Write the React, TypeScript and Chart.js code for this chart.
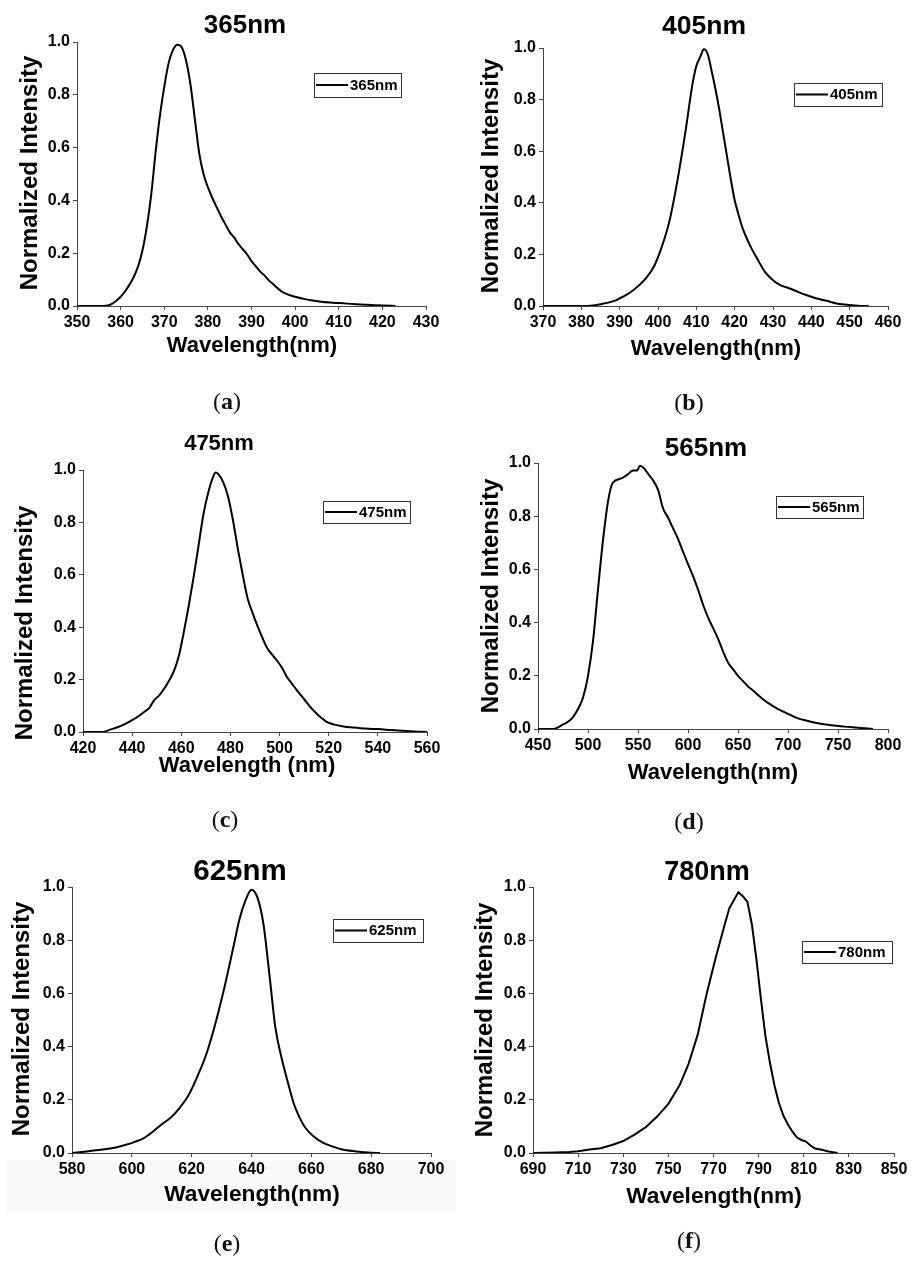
import React, { useEffect, useRef } from "react";
import { Chart, registerables } from "chart.js";

Chart.register(...registerables);

// ---------------- data ----------------
const wlA = [350, 355, 357, 358, 359, 360, 361, 362, 363, 364, 365, 366, 367, 368, 369, 370, 371, 372, 373, 374, 375, 376, 377, 378, 379, 380, 381, 382, 383, 384, 385, 386, 387, 388, 389, 390, 391, 392, 393, 394, 395, 396, 397, 398, 399, 400, 402, 404, 406, 408, 410, 412, 414, 416, 418, 420, 423];
const intA = [0, 0, 0.002, 0.008, 0.02, 0.035, 0.055, 0.08, 0.11, 0.15, 0.21, 0.3, 0.42, 0.58, 0.72, 0.83, 0.92, 0.97, 0.99, 0.98, 0.93, 0.84, 0.71, 0.58, 0.5, 0.45, 0.41, 0.375, 0.34, 0.31, 0.28, 0.26, 0.235, 0.215, 0.195, 0.17, 0.15, 0.13, 0.115, 0.097, 0.082, 0.067, 0.054, 0.046, 0.04, 0.035, 0.027, 0.021, 0.016, 0.013, 0.011, 0.009, 0.007, 0.005, 0.003, 0.002, 0];

const wlB = [370, 380, 383, 385, 387, 389, 391, 393, 395, 397, 399, 401, 403, 405, 407, 409, 410, 411, 412, 413, 414, 415, 416, 417, 418, 419, 420, 421, 422, 424, 426, 428, 430, 432, 434, 436, 438, 440, 442, 444, 446, 448, 450, 452, 455];
const intB = [0, 0, 0.002, 0.007, 0.013, 0.022, 0.037, 0.055, 0.08, 0.11, 0.155, 0.23, 0.33, 0.48, 0.66, 0.86, 0.93, 0.965, 0.995, 0.975, 0.91, 0.84, 0.76, 0.67, 0.58, 0.49, 0.41, 0.355, 0.305, 0.235, 0.18, 0.13, 0.1, 0.08, 0.07, 0.058, 0.046, 0.036, 0.027, 0.02, 0.012, 0.007, 0.004, 0.001, 0];

const wlC = [420, 428, 431, 434, 437, 440, 443, 445, 447, 449, 451, 453, 455, 457, 459, 461, 463, 465, 467, 469, 471, 473, 474, 475, 477, 479, 481, 483, 485, 487, 489, 491, 493, 495, 497, 499, 501, 503, 505, 507, 510, 513, 516, 519, 522, 526, 530, 535, 540, 545, 550, 555, 560];
const intC = [0, 0, 0.009, 0.018, 0.03, 0.045, 0.063, 0.077, 0.092, 0.122, 0.14, 0.165, 0.196, 0.232, 0.29, 0.38, 0.48, 0.59, 0.71, 0.83, 0.915, 0.975, 0.99, 0.985, 0.955, 0.9, 0.81, 0.7, 0.6, 0.51, 0.455, 0.405, 0.36, 0.32, 0.295, 0.272, 0.245, 0.21, 0.185, 0.16, 0.125, 0.09, 0.062, 0.04, 0.029, 0.021, 0.017, 0.013, 0.011, 0.008, 0.005, 0.002, 0];

const wlD = [450, 465, 470, 475, 480, 485, 490, 495, 500, 505, 510, 515, 520, 524, 527, 530, 535, 540, 545, 549, 552, 556, 560, 565, 570, 575, 580, 585, 590, 595, 600, 605, 610, 615, 620, 625, 630, 635, 640, 645, 650, 655, 660, 665, 670, 675, 680, 690, 700, 710, 720, 730, 740, 750, 760, 770, 780, 785];
const intD = [0, 0, 0.006, 0.017, 0.027, 0.045, 0.075, 0.118, 0.2, 0.33, 0.525, 0.71, 0.855, 0.92, 0.933, 0.938, 0.945, 0.958, 0.972, 0.972, 0.99, 0.98, 0.96, 0.935, 0.9, 0.83, 0.795, 0.755, 0.715, 0.667, 0.62, 0.575, 0.525, 0.468, 0.42, 0.38, 0.34, 0.292, 0.25, 0.225, 0.2, 0.18, 0.16, 0.145, 0.128, 0.112, 0.098, 0.075, 0.057, 0.04, 0.03, 0.022, 0.016, 0.011, 0.008, 0.005, 0.002, 0];

const wlE = [580, 585, 590, 595, 598, 601, 604, 607, 610, 613, 616, 619, 622, 625, 628, 631, 634, 636, 638, 640, 642, 644, 646, 648, 650, 652, 654, 656, 658, 661, 664, 667, 670, 675, 680, 683];
const intE = [0, 0.006, 0.013, 0.022, 0.031, 0.042, 0.056, 0.08, 0.108, 0.133, 0.17, 0.218, 0.29, 0.375, 0.49, 0.625, 0.777, 0.88, 0.95, 0.99, 0.96, 0.86, 0.67, 0.47, 0.36, 0.272, 0.19, 0.135, 0.095, 0.06, 0.038, 0.025, 0.014, 0.006, 0.001, 0];

const wlF = [690, 700, 706, 710, 715, 720, 725, 730, 735, 740, 745, 750, 755, 759, 763, 767, 771, 775, 777, 779, 781, 783, 785, 787, 789, 791, 793, 795, 797, 799, 801, 803, 805, 807, 809, 811, 813, 815, 818, 821, 825];
const intF = [0, 0.002, 0.004, 0.007, 0.013, 0.018, 0.03, 0.045, 0.069, 0.097, 0.137, 0.185, 0.255, 0.336, 0.445, 0.6, 0.735, 0.86, 0.92, 0.95, 0.98, 0.965, 0.945, 0.86, 0.73, 0.58, 0.44, 0.34, 0.255, 0.188, 0.14, 0.107, 0.08, 0.058, 0.049, 0.043, 0.028, 0.017, 0.012, 0.006, 0];

const yTickValues = [0, 0.2, 0.4, 0.6, 0.8, 1.0];
const xTicksA = [350, 360, 370, 380, 390, 400, 410, 420, 430];
const xTicksB = [370, 380, 390, 400, 410, 420, 430, 440, 450, 460];
const xTicksC = [420, 440, 460, 480, 500, 520, 540, 560];
const xTicksD = [450, 500, 550, 600, 650, 700, 750, 800];
const xTicksE = [580, 600, 620, 640, 660, 680, 700];
const xTicksF = [690, 710, 730, 750, 770, 790, 810, 830, 850];

const seriesLabels = ["365nm", "405nm", "475nm", "565nm", "625nm", "780nm"];
const xAxisTitles = ["Wavelength(nm)", "Wavelength(nm)", "Wavelength (nm)", "Wavelength(nm)", "Wavelength(nm)", "Wavelength(nm)"];
const yAxisTitle = "Normalized Intensity";
const captionLetters = ["a", "b", "c", "d", "e", "f"];

const wavelengths = [wlA, wlB, wlC, wlD, wlE, wlF];
const intensities = [intA, intB, intC, intD, intE, intF];
const xTickSets = [xTicksA, xTicksB, xTicksC, xTicksD, xTicksE, xTicksF];

// ---------------- layout (page pixels) ----------------
type Geo = {
  cell: [number, number, number, number];
  area: [number, number, number, number]; // left, top, right, bottom
  title: [number, number, number];
  xl: [number, number, number];
  yl: [number, number, number];
  legend: [number, number, number, number];
  cap: [number, number];
  smooth: boolean;
};

const GEO: Geo[] = [
  { cell: [0, 0, 456, 420], area: [77, 42, 426, 306], title: [245, 26, 26], xl: [252, 346, 22], yl: [30, 173, 24], legend: [314, 73, 401, 97], cap: [227, 401], smooth: true },
  { cell: [456, 0, 457, 420], area: [543, 48, 888, 306], title: [704, 27, 26.5], xl: [716, 349, 22], yl: [491, 176, 24], legend: [794, 83, 882, 106], cap: [689, 402], smooth: true },
  { cell: [0, 420, 456, 420], area: [83, 470, 427, 732], title: [219, 444, 22], xl: [247, 766, 22], yl: [25, 623, 24], legend: [323, 501, 410, 523], cap: [225, 819], smooth: true },
  { cell: [456, 420, 457, 420], area: [538, 463, 888, 729], title: [706, 449, 26], xl: [713, 773, 22], yl: [491, 596, 24], legend: [776, 496, 863, 518], cap: [689, 821], smooth: true },
  { cell: [0, 840, 456, 421], area: [72, 887, 431, 1153], title: [240, 872, 29.5], xl: [252, 1195, 22.7], yl: [22, 1019, 24], legend: [333, 919, 423, 942], cap: [227, 1243], smooth: true },
  { cell: [456, 840, 457, 421], area: [533, 887, 894, 1153], title: [707, 873, 27], xl: [714, 1197, 22.7], yl: [485, 1020, 24], legend: [802, 941, 892, 963], cap: [689, 1240], smooth: false },
];

const SANS = '"Liberation Sans", Arial, Helvetica, sans-serif';
const X_AXIS_H = 40;

function makeDecor(i: number) {
  const g = GEO[i];
  const ox = g.cell[0];
  const oy = g.cell[1];
  return {
    id: "decor" + i,
    afterDraw(chart: any) {
      const ctx = chart.ctx as CanvasRenderingContext2D;
      ctx.save();
      ctx.fillStyle = "#000";
      ctx.textAlign = "center";
      ctx.textBaseline = "middle";
      // title
      ctx.font = `bold ${g.title[2]}px ${SANS}`;
      ctx.fillText(seriesLabels[i], g.title[0] - ox, g.title[1] - oy);
      // x axis title
      ctx.font = `bold ${g.xl[2]}px ${SANS}`;
      ctx.fillText(xAxisTitles[i], g.xl[0] - ox, g.xl[1] - oy);
      // y axis title
      ctx.save();
      ctx.translate(g.yl[0] - ox, g.yl[1] - oy);
      ctx.rotate(-Math.PI / 2);
      ctx.font = `bold ${g.yl[2]}px ${SANS}`;
      ctx.fillText(yAxisTitle, 0, 0);
      ctx.restore();
      // legend
      const [l, t, r, b] = g.legend;
      const lx = l - ox + 0.5;
      const ty = t - oy + 0.5;
      ctx.strokeStyle = "#333";
      ctx.lineWidth = 1;
      ctx.strokeRect(lx, ty, r - l, b - t);
      const cy = (t + b) / 2 - oy;
      ctx.beginPath();
      ctx.strokeStyle = "#000";
      ctx.lineWidth = 2;
      ctx.moveTo(l - ox + 2, cy);
      ctx.lineTo(l - ox + 34, cy);
      ctx.stroke();
      ctx.textAlign = "left";
      ctx.font = `bold 15px ${SANS}`;
      ctx.fillText(seriesLabels[i], l - ox + 36, cy + 0.5);
      ctx.restore();
    },
  };
}

function Panel({ index }: { index: number }) {
  const ref = useRef<HTMLCanvasElement | null>(null);
  const g = GEO[index];
  useEffect(() => {
    if (!ref.current) return;
    const [cx, cy, cw, ch] = g.cell;
    const [al, at, ar, ab] = g.area;
    const ticksX = xTickSets[index];
    const wl = wavelengths[index];
    const it = intensities[index];
    const chart = new Chart(ref.current, {
      type: "line",
      data: {
        datasets: [
          {
            label: seriesLabels[index],
            data: wl.map((x, k) => ({ x, y: it[k] })),
            borderColor: "#000",
            borderWidth: 2,
            pointRadius: 0,
            fill: false,
            cubicInterpolationMode: g.smooth ? "monotone" : "default",
            tension: 0,
          } as any,
        ],
      },
      options: {
        responsive: false,
        animation: false,
        events: [],
        layout: {
          padding: {
            left: 0,
            top: at - cy,
            right: cx + cw - ar,
            bottom: ch - (ab - cy) - X_AXIS_H,
          },
        },
        plugins: {
          legend: { display: false },
          title: { display: false },
          tooltip: { enabled: false },
        },
        scales: {
          x: {
            type: "linear",
            min: ticksX[0],
            max: ticksX[ticksX.length - 1],
            afterBuildTicks: (s: any) => {
              s.ticks = ticksX.map((v) => ({ value: v }));
            },
            afterFit: (s: any) => {
              s.height = X_AXIS_H;
            },
            grid: { display: true, drawOnChartArea: false, drawTicks: true, tickLength: 4, color: "#444" },
            border: { display: true, color: "#444", width: 1 },
            ticks: {
              autoSkip: false,
              maxRotation: 0,
              padding: 3,
              color: "#000",
              font: { family: SANS, weight: "bold", size: 16 },
            },
          },
          y: {
            type: "linear",
            min: 0,
            max: 1,
            afterBuildTicks: (s: any) => {
              s.ticks = yTickValues.map((v) => ({ value: v }));
            },
            afterFit: (s: any) => {
              s.width = al - cx;
            },
            grid: { display: true, drawOnChartArea: false, drawTicks: true, tickLength: 4, color: "#444" },
            border: { display: true, color: "#444", width: 1 },
            ticks: {
              padding: 3,
              color: "#000",
              font: { family: SANS, weight: "bold", size: 16 },
              callback: (v: any) => Number(v).toFixed(1),
            },
          },
        },
      } as any,
      plugins: [makeDecor(index)],
    });
    return () => chart.destroy();
  }, [index]);

  return (
    <>
      <canvas
        ref={ref}
        width={g.cell[2]}
        height={g.cell[3]}
        style={{ position: "absolute", left: g.cell[0], top: g.cell[1], width: g.cell[2], height: g.cell[3] }}
      />
      <div
        style={{
          position: "absolute",
          left: g.cap[0] - 40,
          top: g.cap[1] - 15,
          width: 80,
          height: 30,
          lineHeight: "30px",
          textAlign: "center",
          fontFamily: '"Liberation Serif", "DejaVu Serif", serif',
          fontSize: 24,
          color: "#111",
        }}
      >
        (<b>{captionLetters[index]}</b>)
      </div>
    </>
  );
}

export default function App() {
  return (
    <div style={{ position: "absolute", left: 0, top: 0, width: 913, height: 1261, background: "#fff", overflow: "hidden" }}>
      <div style={{ position: "absolute", left: 5, top: 1160, width: 451, height: 52, background: "#fafafa" }} />
      {GEO.map((_, i) => (
        <Panel key={i} index={i} />
      ))}
    </div>
  );
}
